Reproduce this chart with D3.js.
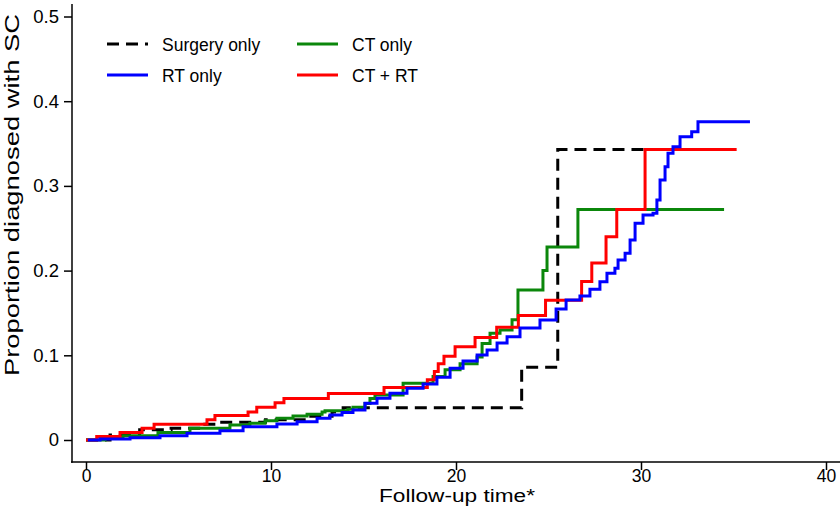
<!DOCTYPE html>
<html><head><meta charset="utf-8">
<script src="https://cdn.jsdelivr.net/npm/d3@7/dist/d3.min.js"></script>
<style>body{margin:0;background:#fff}svg{display:block}text{font-family:"Liberation Sans",Arial,sans-serif;fill:#000}</style>
</head><body><svg id="c" width="840" height="506"></svg>
<script>
// Data (time, cumulative proportion)
const surgeryT = [0, 1.3, 2.9, 4.6, 6.3, 7.2, 9.7, 12.0, 13.3, 13.9, 23.55, 25.5];
const surgeryV = [0, 0.006, 0.012, 0.014, 0.0185, 0.021, 0.024, 0.028, 0.033, 0.038, 0.086, 0.343];
const surgeryEnd = 34.2;

const ctT = [0, 1.03, 2.0, 3.89, 5.62, 7.78, 8.86, 9.68, 10.32, 11.19, 11.95, 12.76, 12.92, 14.16, 14.43, 15.08, 15.35, 15.62, 17.14, 18.76, 19.41, 20.22, 21.14, 21.41, 21.84, 22.38, 23.03, 23.35, 24.70, 24.92, 26.59];
const ctV = [0, 0.003, 0.005, 0.009, 0.014, 0.0177, 0.0197, 0.0228, 0.0256, 0.0283, 0.0303, 0.0331, 0.0346, 0.0362, 0.0386, 0.043, 0.049, 0.053, 0.067, 0.075, 0.083, 0.090, 0.098, 0.114, 0.126, 0.130, 0.142, 0.177, 0.200, 0.228, 0.272];
const ctEnd = 34.49;

const ctrtT = [0, 0.58, 1.84, 3.03, 3.68, 6.54, 6.97, 8.76, 9.23, 10.22, 10.70, 13.10, 16.11, 18.45, 18.83, 19.04, 19.35, 19.95, 21.03, 22.2, 23.37, 24.84, 26.79, 27.34, 28.11, 28.69, 30.22];
const ctrtV = [0, 0.004, 0.009, 0.014, 0.0185, 0.024, 0.029, 0.033, 0.0386, 0.044, 0.049, 0.055, 0.062, 0.071, 0.081, 0.090, 0.099, 0.110, 0.121, 0.133, 0.147, 0.165, 0.187, 0.209, 0.240, 0.272, 0.343];
const ctrtEnd = 35.17;

const rtT = [0.1, 0.76, 2.38, 4.0, 5.46, 7.24, 8.49, 10.32, 11.41, 12.49, 13.19, 13.84, 14.43, 15.08, 15.73, 16.43, 17.35, 18.22, 18.97, 19.68, 20.38, 21.14, 21.68, 22.22, 22.76, 23.46, 24.54, 25.41, 25.95, 26.70, 27.24, 27.78, 28.16, 28.59, 28.76, 29.14, 29.41, 29.68, 30.11, 30.65, 30.86, 31.03, 31.30, 31.46, 31.73, 32.11, 32.74, 33.08];
const rtV = [0, 0.0012, 0.0027, 0.0051, 0.0079, 0.011, 0.0157, 0.0189, 0.0216, 0.0256, 0.0295, 0.0325, 0.0354, 0.0433, 0.0492, 0.0551, 0.061, 0.0661, 0.074, 0.0847, 0.0933, 0.1004, 0.1063, 0.1145, 0.122, 0.1322, 0.1417, 0.1547, 0.1653, 0.170, 0.178, 0.1869, 0.1968, 0.2027, 0.2125, 0.2204, 0.2361, 0.2558, 0.2656, 0.2677, 0.2834, 0.307, 0.3227, 0.3385, 0.3463, 0.358, 0.364, 0.3758];
const rtEnd = 35.89;

const xTicks = [0, 10, 20, 30, 40];
const yTicks = [0, 0.1, 0.2, 0.3, 0.4, 0.5];
const yTickLabels = ["0", "0.1", "0.2", "0.3", "0.4", "0.5"];
const legendLabels = ["Surgery only", "RT only", "CT only", "CT + RT"];

const svg = d3.select("#c");
const x = d3.scaleLinear().domain([0, 40]).range([86, 826]);
const y = d3.scaleLinear().domain([0, 0.5]).range([440, 16.5]);

// axes
const xAxis = d3.axisBottom(x).tickValues(xTicks).tickSize(8).tickPadding(1).tickFormat(d3.format("d"));
const gx = svg.append("g").attr("transform", "translate(0,462)").call(xAxis);
gx.select(".domain").remove();
gx.append("line").attr("x1", 71).attr("x2", 840).attr("y1", 0).attr("y2", 0).attr("stroke", "#000").attr("stroke-width", 1.5);
gx.selectAll(".tick line").attr("stroke", "#000").attr("stroke-width", 1.5);
gx.selectAll(".tick text").attr("font-size", 17.5).attr("font-family", "Liberation Sans, Arial, sans-serif").attr("fill", "#000").attr("dy", "0.6em");

const yAxis = d3.axisLeft(y).tickValues(yTicks).tickSize(8).tickPadding(5).tickFormat((d, i) => yTickLabels[i]);
const gy = svg.append("g").attr("transform", "translate(72,0)").call(yAxis);
gy.select(".domain").remove();
gy.append("line").attr("x1", 0).attr("x2", 0).attr("y1", 4).attr("y2", 462.7).attr("stroke", "#000").attr("stroke-width", 1.5);
gy.selectAll(".tick line").attr("stroke", "#000").attr("stroke-width", 1.5);
gy.selectAll(".tick text").attr("font-size", 18.5).attr("font-family", "Liberation Sans, Arial, sans-serif").attr("fill", "#000");

// titles
svg.append("text").attr("x", 457).attr("y", 501.5).attr("text-anchor", "middle").attr("font-size", 17.5)
  .attr("textLength", 156).attr("lengthAdjust", "spacingAndGlyphs").text("Follow-up time*");
svg.append("text").attr("transform", "translate(19,195) rotate(-90)").attr("text-anchor", "middle").attr("font-size", 21)
  .attr("textLength", 362).attr("lengthAdjust", "spacingAndGlyphs").text("Proportion diagnosed with SC");

// curves
function pts(T, V, end) {
  const p = T.map((t, i) => [t, V[i]]);
  p.push([end, V[V.length - 1]]);
  return p;
}
const line = d3.line().x(d => x(d[0])).y(d => y(d[1])).curve(d3.curveStepAfter);
const series = [
  {p: pts(surgeryT, surgeryV, surgeryEnd), c: "#000000", dash: "12,7"},
  {p: pts(ctT, ctV, ctEnd), c: "#0b870b"},
  {p: pts(ctrtT, ctrtV, ctrtEnd), c: "#ff0000"},
  {p: pts(rtT, rtV, rtEnd), c: "#0000ff"}
];
series.forEach(s => {
  svg.append("path").attr("d", line(s.p)).attr("fill", "none").attr("stroke", s.c).attr("stroke-width", 3)
    .attr("stroke-dasharray", s.dash || null).attr("stroke-linejoin", "miter");
});

// legend
const leg = [
  {lab: legendLabels[0], c: "#000000", dash: "12,7", lx: 107, ly: 44},
  {lab: legendLabels[1], c: "#0000ff", lx: 107, ly: 75},
  {lab: legendLabels[2], c: "#0b870b", lx: 297, ly: 44},
  {lab: legendLabels[3], c: "#ff0000", lx: 297, ly: 75}
];
leg.forEach(l => {
  svg.append("line").attr("x1", l.lx).attr("x2", l.lx + 41).attr("y1", l.ly).attr("y2", l.ly)
    .attr("stroke", l.c).attr("stroke-width", 3).attr("stroke-dasharray", l.dash || null);
  svg.append("text").attr("x", l.lx + 55).attr("y", l.ly + 6.5).attr("font-size", 17.5).text(l.lab);
});
</script></body></html>
